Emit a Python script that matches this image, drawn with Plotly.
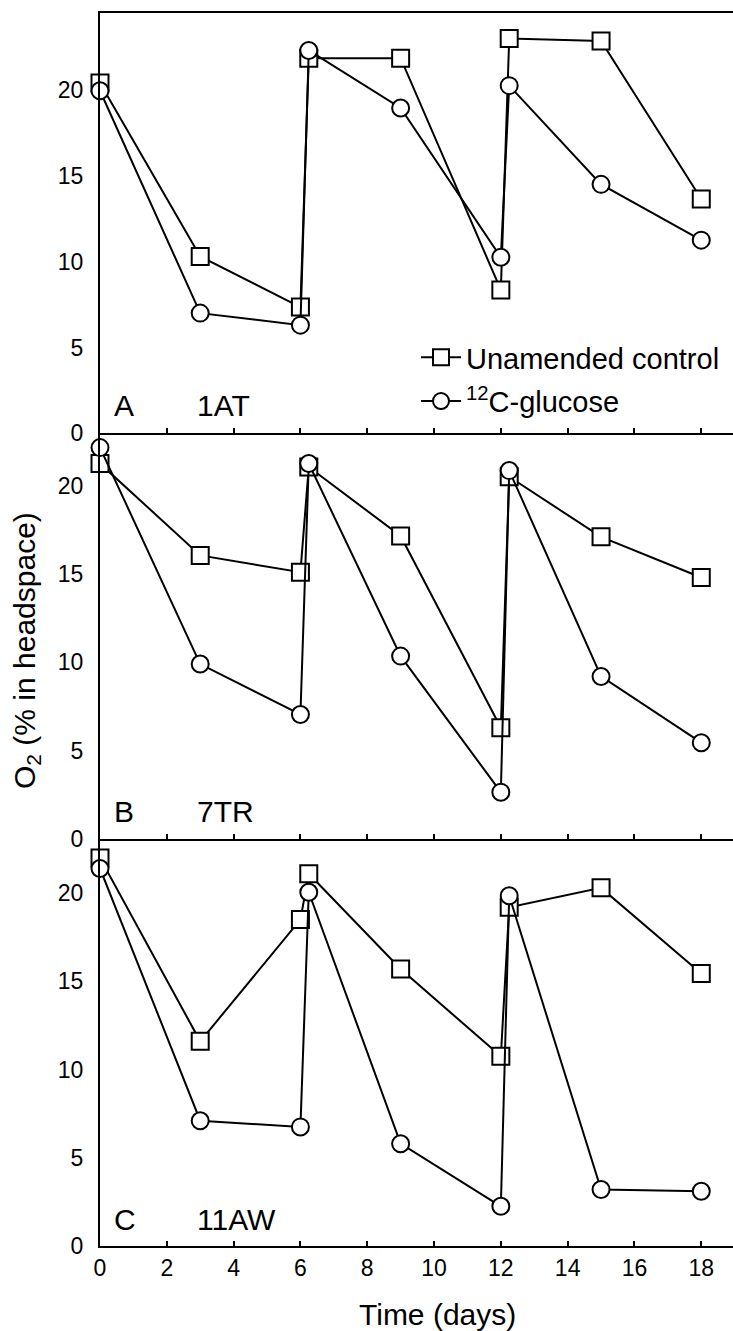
import plotly.graph_objects as go

# ---- data ----
days = [0, 3, 6, 6.25, 9, 12, 12.25, 15, 18]

a_control = [20.4, 10.3, 7.35, 21.85, 21.85, 8.35, 23.0, 22.85, 13.65]
a_glucose = [19.95, 7.0, 6.3, 22.3, 18.95, 10.25, 20.25, 14.5, 11.25]

b_control = [21.25, 16.05, 15.1, 21.05, 17.15, 6.3, 20.5, 17.1, 14.8]
b_glucose = [22.15, 9.9, 7.05, 21.25, 10.35, 2.65, 20.85, 9.2, 5.45]

c_control = [22.0, 11.6, 18.5, 21.1, 15.7, 10.75, 19.2, 20.3, 15.45]
c_glucose = [21.4, 7.1, 6.75, 20.05, 5.8, 2.25, 19.85, 3.2, 3.1]

panel_letters = ["A", "B", "C"]
panel_sites = ["1AT", "7TR", "11AW"]
series_names = ["Unamended control", "<sup>12</sup>C-glucose"]
x_ticks = [0, 2, 4, 6, 8, 10, 12, 14, 16, 18]
y_ticks = [0, 5, 10, 15, 20]

FONT = "Liberation Sans, Arial, sans-serif"

W, H = 733, 1331
ML, MR, MT, MB = 100, 0, 13, 85
plot_h = H - MT - MB


def py(px):
    """pixel y (from top) -> paper y fraction"""
    return (H - MB - px) / plot_h


fig = go.Figure()

panels = [
    (a_control, a_glucose, "x", "y"),
    (b_control, b_glucose, "x2", "y2"),
    (c_control, c_glucose, "x3", "y3"),
]

for i, (ctrl, glu, xa, ya) in enumerate(panels):
    fig.add_trace(go.Scatter(
        x=days, y=ctrl, xaxis=xa, yaxis=ya, mode="lines+markers",
        name=series_names[0], legendgroup="ctrl", showlegend=(i == 0),
        line=dict(color="black", width=2),
        marker=dict(symbol="square", size=17, color="white",
                    line=dict(color="black", width=2)),
        cliponaxis=False,
    ))
    fig.add_trace(go.Scatter(
        x=days, y=glu, xaxis=xa, yaxis=ya, mode="lines+markers",
        name=series_names[1], legendgroup="glu", showlegend=(i == 0),
        line=dict(color="black", width=2),
        marker=dict(symbol="circle", size=17, color="white",
                    line=dict(color="black", width=2)),
        cliponaxis=False,
    ))

xcommon = dict(range=[0, 18.95], showline=True, linewidth=2, linecolor="black",
               ticks="inside", ticklen=5, tickwidth=1.5, tickcolor="black",
               tickvals=x_ticks, showgrid=False, zeroline=False,
               tickfont=dict(family=FONT, size=23, color="black"))
ycommon = dict(showline=True, linewidth=2, linecolor="black", ticks="",
               tickvals=y_ticks, showgrid=False, zeroline=False,
               ticklabelstandoff=10,
               tickfont=dict(family=FONT, size=23, color="black"))

fig.update_layout(
    width=W, height=H,
    margin=dict(l=ML, r=MR, t=MT, b=MB),
    paper_bgcolor="white", plot_bgcolor="white",
    font=dict(family=FONT, color="black"),
    xaxis=dict(xcommon, anchor="y", mirror=True, showticklabels=False),
    yaxis=dict(ycommon, anchor="x", domain=[py(433.3), 1], range=[0, 24.48]),
    xaxis2=dict(xcommon, anchor="y2", showticklabels=False),
    yaxis2=dict(ycommon, anchor="x2", domain=[py(839), py(433.3)], range=[0, 22.96]),
    xaxis3=dict(xcommon, anchor="y3", showticklabels=True),
    yaxis3=dict(ycommon, anchor="x3", domain=[0, py(839)], range=[0, 23.07]),
    legend=dict(x=(416 - ML) / (W - ML - MR), y=py(332), xanchor="left", yanchor="top",
                font=dict(family=FONT, size=29, color="black"),
                bgcolor="rgba(0,0,0,0)", traceorder="grouped", tracegroupgap=3,
                itemwidth=40),
    showlegend=True,
)

annotations = []
label_px = [405.5, 811.7, 1219.5]
for i in range(3):
    annotations.append(dict(text=panel_letters[i], xref="paper", yref="paper",
                            x=(112 - ML) / (W - ML), y=py(label_px[i]),
                            xanchor="left", yanchor="middle", showarrow=False,
                            font=dict(family=FONT, size=30, color="black")))
    annotations.append(dict(text=panel_sites[i], xref="paper", yref="paper",
                            x=(195 - ML) / (W - ML), y=py(label_px[i]),
                            xanchor="left", yanchor="middle", showarrow=False,
                            font=dict(family=FONT, size=30, color="black")))

annotations.append(dict(text="O<sub>2</sub> (% in headspace)", xref="paper", yref="paper",
                        x=(26 - ML) / (W - ML), y=py(651), textangle=-90,
                        xanchor="center", yanchor="middle", showarrow=False,
                        font=dict(family=FONT, size=30, color="black")))
annotations.append(dict(text="Time (days)", xref="paper", yref="paper",
                        x=(437 - ML) / (W - ML), y=py(1314),
                        xanchor="center", yanchor="middle", showarrow=False,
                        font=dict(family=FONT, size=30, color="black")))
fig.update_layout(annotations=annotations)

fig.write_html("out.html")
